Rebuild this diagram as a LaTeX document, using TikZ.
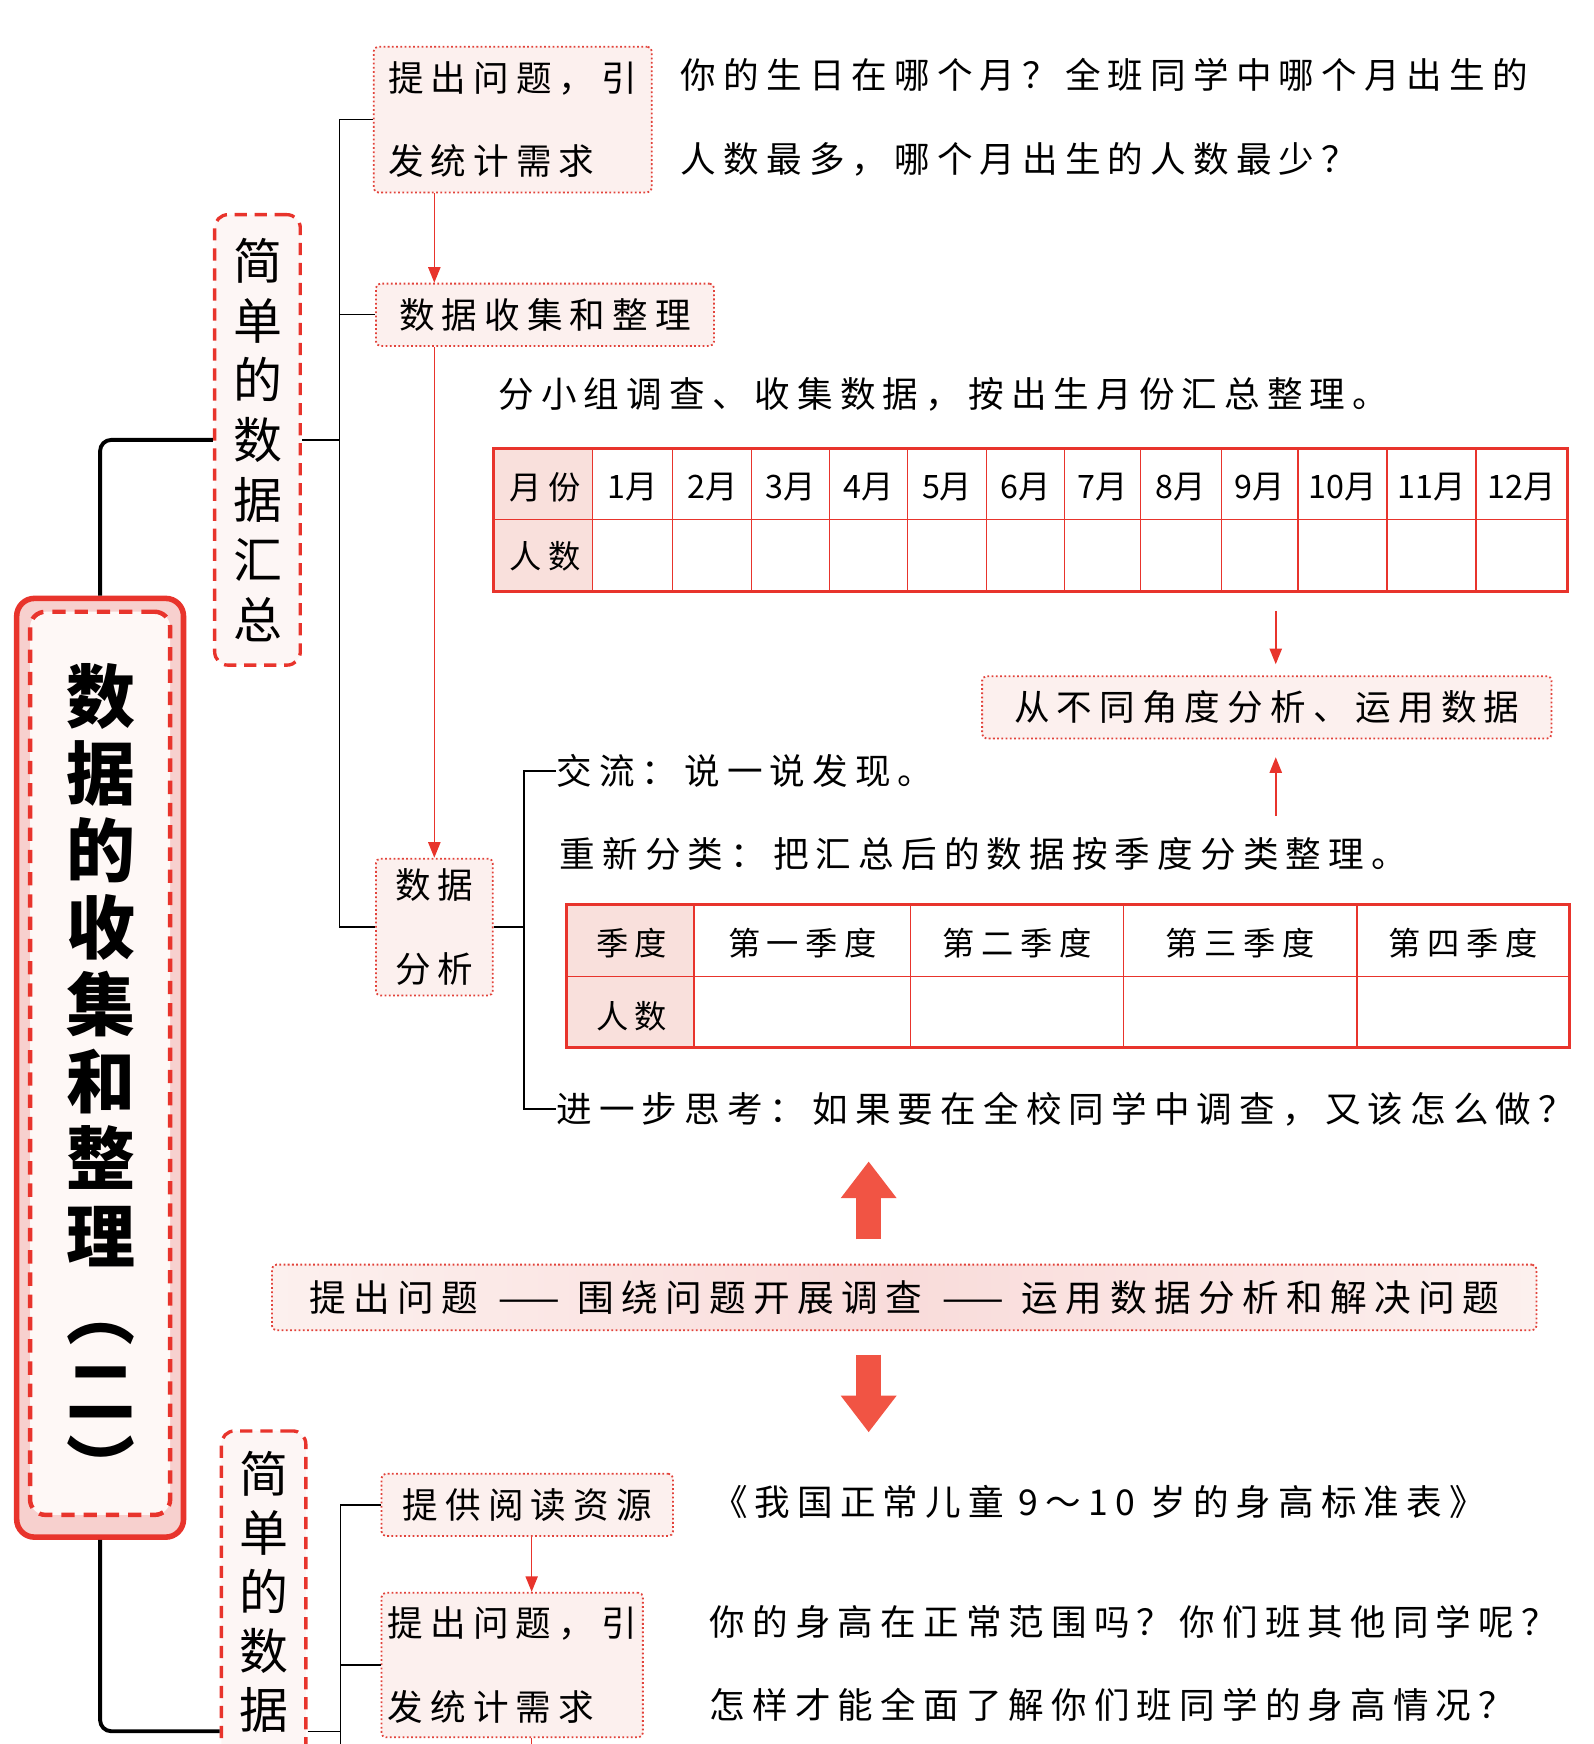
\documentclass[tikz,border=0pt]{standalone}
\usepackage{fontspec}
\setmainfont{Noto Sans CJK SC}
\newfontfamily\wenzi[LetterSpace=20]{Noto Sans CJK SC}
\newfontfamily\heiti{Noto Sans CJK SC}
\usetikzlibrary{arrows.meta,positioning,calc}
\definecolor{hong}{RGB}{232,52,44}
\definecolor{xian}{RGB}{226,66,58}
\definecolor{fen}{RGB}{252,240,238}
\definecolor{fenq}{RGB}{247,208,206}
\definecolor{fent}{RGB}{249,224,220}
\definecolor{dahong}{RGB}{241,84,68}
\tikzset{
  wen/.style={inner sep=0pt, anchor=west, align=left, font=\wenzi\fontsize{32}{75}\selectfont},
  kuang/.style={draw=xian, dash pattern=on 1.6pt off 2.2pt, line width=1.6pt, rounded corners=4pt, fill=fen, inner sep=0pt, align=left, font=\wenzi\fontsize{32}{75}\selectfont},
  shu/.style={draw=hong, dash pattern=on 11pt off 7pt, line width=3pt, rounded corners=12pt, fill=fen!60, inner sep=0pt, align=center, font=\heiti\fontsize{44}{53.8}\selectfont},
  ge/.style={inner sep=0pt, font=\wenzi\fontsize{29}{30}\selectfont},
  geb/.style={inner sep=0pt, font=\heiti\fontsize{29}{30}\selectfont},
  jt/.style={-{Triangle[length=14pt,width=11pt]}, line width=1.4pt, hong},
  dajt/.style={-{Triangle[length=33pt,width=48pt]}, line width=23pt, dahong},
  xi/.style={line width=1.3pt, black},
  cu/.style={line width=3.5pt, black, rounded corners=10pt},
  gx/.style={line width=1pt, hong},
  gk/.style={draw=hong, line width=2.5pt, inner sep=0pt},
}
\begin{document}
\begin{tikzpicture}[x=1pt,y=-1pt]
  \useasboundingbox (0,0) rectangle (1433,1568);
  \clip (0,0) rectangle (1433,1568);
  \coordinate (z1) at (305,0);
  \coordinate (z2) at (471,0);
  \coordinate (z3) at (306,0);
  \coordinate (ax) at (1147,0);
  \coordinate (bx) at (781,0);
  \coordinate (jx) at (478,0);
  \coordinate (zd) at (0,1620);

  % title box
  \node[draw=hong, line width=5pt, rounded corners=16pt, fill=fenq, minimum width=150pt, minimum height=844pt] (zong) at (90,960) {};
  \node[draw=hong, line width=4pt, dash pattern=on 12pt off 8pt, rounded corners=14pt, fill=fen!50, minimum width=126pt, minimum height=812pt] (nei) at (90,956) {};
  \node[inner sep=0pt, align=center, font=\heiti\bfseries\fontsize{62}{69.3}\selectfont] (biaoti) at (91,969.5) {数\\据\\的\\收\\集\\和\\整\\理\\︵\\二\\︶};

  % upper part
  \node[shu, minimum width=77pt, minimum height=405pt] (s1) at (231.5,395.5) {简\\单\\的\\数\\据\\汇\\总};
  \node[kuang, minimum width=250pt, minimum height=131pt] (q1) at (461,107.5) {提出问题，引\\发统计需求};
  \node[kuang, minimum width=304pt, minimum height=56pt] (q2) at (490,283) {数据收集和整理};
  \node[kuang, minimum width=105pt, minimum height=123pt] (q3) at (390.5,833.5) {数据\\分析};
  \node[wen] (w1) at (612,105.5) {你的生日在哪个月？全班同学中哪个月出生的\\人数最多，哪个月出生的人数最少？};
  \node[wen] (w2) at (448,355) {分小组调查、收集数据，按出生月份汇总整理。};

  \draw[cu] (s1.west) -| (zong.north);
  \draw[xi] (q1.west) -- (q1.west -| z1) -- (q3.west -| z1) -- (q3.west);
  \draw[xi] (q2.west) -- (q2.west -| z1);
  \draw[xi] (s1.east) -- (s1.east -| z1);
  \draw[jt] (q1.south -| q3.north) -- (q2.north -| q3.north);
  \draw[jt] (q2.south -| q3.north) -- (q3.north);

  % month table
  \fill[fent] (444,403) rectangle (533,532);
  \foreach \x in {533,605,676,746,816,887,957,1025,1098,1167,1247,1327}
    \draw[gx] (\x,403) -- (\x,532);
  \draw[gx] (444,467) -- (1409,467);
  \node[gk, minimum width=965pt, minimum height=129pt] (t1) at (926.5,467.5) {};
  \node[ge] (yf) at (490,438) {月份};
  \node[ge] (rs1) at (490,500) {人数};
  \foreach \a/\b [count=\i] in {533/605,605/676,676/746,746/816,816/887,887/957,957/1025,1025/1098,1098/1167,1167/1247,1247/1327,1327/1409}
    \node[geb] (yue\i) at ({(\a+\b)/2},438) {\i 月};

  \node[kuang, minimum width=512pt, minimum height=56pt] (an) at (1139,636) {从不同角度分析、运用数据};
  \draw[jt] ([yshift=-16pt]t1.south -| ax) -- ([yshift=10pt]an.north -| ax);
  \draw[jt] ([yshift=-69pt]an.south -| ax) -- ([yshift=-16pt]an.south -| ax);

  % analysis
  \node[wen] (jl) at (500,693) {交流：说一说发现。};
  \node[wen] (cx) at (503,768) {重新分类：把汇总后的数据按季度分类整理。};
  \node[wen] (js) at (500,997) {进一步思考：如果要在全校同学中调查，又该怎么做？};
  \draw[xi] (q3.east) -- (q3.east -| z2);
  \draw[xi] (jl.west) -- (jl.west -| z2) -- (js.west -| z2) -- (js.west);

  % season table
  \fill[fent] (509,813) rectangle (624,942);
  \foreach \x in {624,819,1010,1220}
    \draw[gx] (\x,813) -- (\x,942);
  \draw[gx] (509,878) -- (1411,878);
  \node[gk, minimum width=902pt, minimum height=129pt] (t2) at (960,877.5) {};
  \node[ge] (jd) at (568,848) {季度};
  \node[ge] (rs2) at (568,914) {人数};
  \foreach \a/\b/\t [count=\i] in {624/819/第一季度,819/1010/第二季度,1010/1220/第三季度,1220/1411/第四季度}
    \node[ge] (ji\i) at ({(\a+\b)/2},848) {\t};

  % steps
  \node[kuang, minimum width=1137pt, minimum height=59pt, left color=fen, right color=fen, middle color=fenq!75, align=center, font=\wenzi\fontsize{33}{40}\selectfont] (liu) at (813,1166.5) {提出问题\hspace{18pt}——\hspace{16pt}围绕问题开展调查\hspace{18pt}——\hspace{16pt}运用数据分析和解决问题};
  \draw[dajt] ([yshift=22pt]liu.north -| bx) -- ([yshift=92pt]liu.north -| bx);
  \draw[dajt] ([yshift=-21pt]liu.south -| bx) -- ([yshift=-91pt]liu.south -| bx);

  % lower part
  \node[shu, minimum width=76pt, minimum height=540pt, anchor=north] (s2) at (237,1285) {};
  \node[inner sep=0pt, align=center, font=\heiti\fontsize{44}{53}\selectfont] (s2t) at (237,1431) {简\\单\\的\\数\\据};
  \node[kuang, minimum width=262pt, minimum height=56pt] (r1) at (474,1353) {提供阅读资源};
  \node[kuang, minimum width=235pt, minimum height=130pt] (q4) at (460.5,1497) {提出问题，引\\发统计需求};
  \node[wen] (w3) at (640,1350) {《我国正常儿童 9～10 岁的身高标准表》};
  \node[wen] (w4) at (638,1495.5) {你的身高在正常范围吗？你们班其他同学呢？\\怎样才能全面了解你们班同学的身高情况？};

  \draw[cu] (zong.south) |- (s2.west);
  \draw[xi] (r1.west) -- (r1.west -| z3) -- (z3 |- zd);
  \draw[xi] (q4.west) -- (q4.west -| z3);
  \draw[xi] (s2.east) -- (s2.east -| z3);
  \draw[jt] (r1.south -| jx) -- (q4.north -| jx);
  \draw[jt] (q4.south -| jx) -- (jx |- zd);
\end{tikzpicture}
\end{document}
